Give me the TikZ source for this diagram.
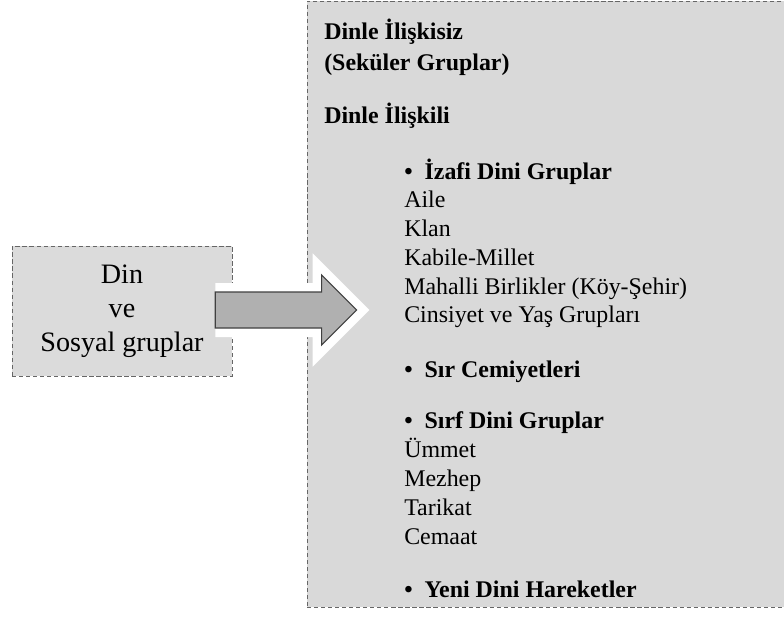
\documentclass[tikz,border=0pt]{standalone}
\usepackage{fontspec}
\setmainfont{Liberation Serif}
\usetikzlibrary{positioning,calc}
\tikzset{
    groupbox/.style={
        rectangle,
        densely dashed,
        draw=gray!80!black,
        fill=gray!28,
        minimum width=5.5cm,
        minimum height=3.25cm,
        align=center,
        font=\fontsize{20}{24.2}\selectfont,
    },
    listpanel/.style={
        rectangle,
        densely dashed,
        draw=gray!80!black,
        fill=gray!30,
        inner sep=0pt,
        minimum width=12.325cm,
        minimum height=15.15cm,
    },
    head/.style={anchor=base west, inner sep=0pt, font=\fontsize{17}{20}\selectfont\bfseries},
    bitem/.style={anchor=base west, inner sep=0pt, font=\fontsize{17}{20}\selectfont\bfseries},
    item/.style={anchor=base west, inner sep=0pt, font=\fontsize{17}{20}\selectfont},
    halo/.style={draw=white, line width=0.45cm, line join=miter},
    blockarrow/.style={fill=gray!62, draw=black!75, line width=0.8pt},
}
\newcommand{\blt}{\textbullet\hspace{0.5em}}

\begin{document}
\begin{tikzpicture}[x=0.025cm,y=-0.025cm]
    \useasboundingbox (0,0) rectangle (784,620);

    \node [groupbox] (box) at (122,311) {Din\\ve\\Sosyal gruplar};
    \node [listpanel] (panel) at (553.5,304) {};

    % texts in the panel
    \node [head] (seculer1) at (324,39) {Dinle İlişkisiz};
    \node [head] (seculer2) at (324,70) {(Seküler Gruplar)};
    \node [head] (dinli) at (324,123) {Dinle İlişkili};

    \node [bitem] (izafi) at (404,179) {\blt İzafi Dini Gruplar};
    \node [item] (aile) at (404,207) {Aile};
    \node [item] (klan) at (404,236) {Klan};
    \node [item] (kabile) at (404,265) {Kabile-Millet};
    \node [item] (mahalli) at (404,294) {Mahalli Birlikler (Köy-Şehir)};
    \node [item] (cinsiyet) at (404,322) {Cinsiyet ve Yaş Grupları};

    \node [bitem] (sir) at (404,377) {\blt Sır Cemiyetleri};

    \node [bitem] (sirf) at (404,428) {\blt Sırf Dini Gruplar};
    \node [item] (ummet) at (404,457) {Ümmet};
    \node [item] (mezhep) at (404,486) {Mezhep};
    \node [item] (tarikat) at (404,515) {Tarikat};
    \node [item] (cemaat) at (404,544) {Cemaat};

    \node [bitem] (yeni) at (404,597) {\blt Yeni Dini Hareketler};

    % the arrow
    \coordinate (tail) at ($(box.east)+(-17,-1)$);
    \coordinate (tip) at ($(panel.west)+(50,6)$);
    \draw [halo] ($(tail)+(0,-18)$) -- ($(tip)+(-35,-18)$) -- ($(tip)+(-35,-35)$) -- (tip)
        -- ($(tip)+(-35,35)$) -- ($(tip)+(-35,18)$) -- ($(tail)+(0,18)$);
    \draw [blockarrow] ($(tail)+(0,-18)$) -- ($(tip)+(-35,-18)$) -- ($(tip)+(-35,-35)$) -- (tip)
        -- ($(tip)+(-35,35)$) -- ($(tip)+(-35,18)$) -- ($(tail)+(0,18)$) -- cycle;
\end{tikzpicture}
\end{document}
